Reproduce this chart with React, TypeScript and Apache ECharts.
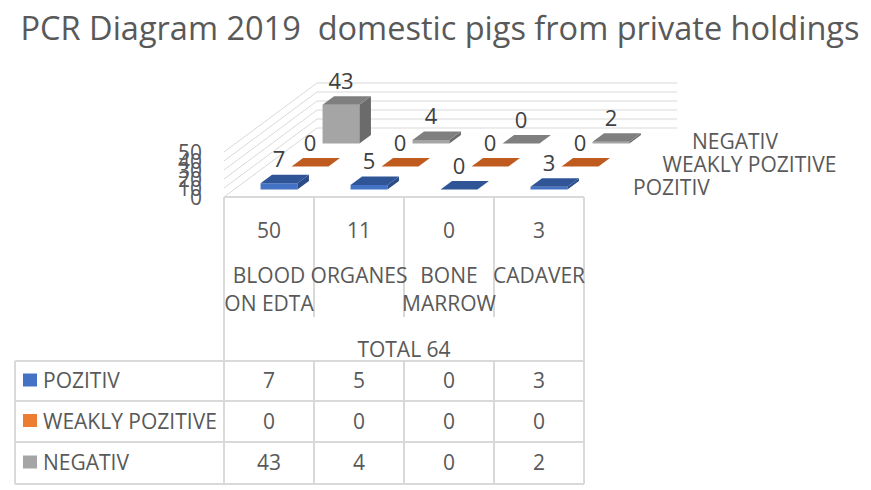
import React, { useEffect, useRef } from "react";
import * as echarts from "echarts";

// ---------- data ----------
const chartTitle = "PCR Diagram 2019  domestic pigs from private holdings";
const categories = ["BLOOD\nON EDTA", "ORGANES", "BONE\nMARROW", "CADAVER"];
const categoryTotals = [50, 11, 0, 3];
const grandTotalLabel = "TOTAL 64";
const seriesNames = ["POZITIV", "WEAKLY POZITIVE", "NEGATIV"];
const pozitiv = [7, 5, 0, 3];
const weaklyPozitive = [0, 0, 0, 0];
const negativ = [43, 4, 0, 2];
const yTicks = [0, 10, 20, 30, 40, 50];

const seriesValues = [pozitiv, weaklyPozitive, negativ];

// ---------- style / layout ----------
const FONT = "'Open Sans', 'Noto Sans', sans-serif";
const TXT = "#595959";
const LABEL = "#404040";
const LINE = "#D9D9D9";
const palette = [
  { key: "#4472C4", front: "#4472C4", top: "#2F5597", side: "#2B4C88" },
  { key: "#ED7D31", front: "#ED7D31", top: "#BF5B1E", side: "#A24B16" },
  { key: "#A5A5A5", front: "#A5A5A5", top: "#7F7F7F", side: "#6B6B6B" },
];
const ROW_DX = 31;
const ROW_DY = 23;
const IN_ROW_DX = 10;
const IN_ROW_DY = 7.5;
const BAR_DX = 11.5;
const BAR_DY = 8.5;
const BAR_W_RATIO = 0.41;
const NROWS = 3;

const GRID_LEFT = 224;
const GRID_TOP = 152;
const GRID_W = 360;
const GRID_H = 45;

function txt(text: string, x: number, y: number, size: number, align: string, extra: any = {}) {
  return {
    type: "text",
    silent: true,
    style: {
      text,
      x,
      y,
      fill: extra.fill || TXT,
      fontSize: size,
      fontFamily: FONT,
      align,
      textAlign: align,
      verticalAlign: extra.va || "middle",
      textVerticalAlign: extra.va || "middle",
      lineHeight: extra.lineHeight,
    },
  };
}

function line(x1: number, y1: number, x2: number, y2: number) {
  return {
    type: "line",
    silent: true,
    shape: { x1, y1, x2, y2 },
    style: { stroke: LINE, lineWidth: 2 },
  };
}

export default function App() {
  const ref = useRef<HTMLDivElement>(null);

  useEffect(() => {
    document.body.style.margin = "0";
    if (!ref.current) return;
    const chart = echarts.init(ref.current, null, { renderer: "svg" });

    // walls (gridlines on left & back wall) + value-axis tick labels
    const wallsRender = (params: any, api: any) => {
      const v = api.value(1);
      const bw = api.size([1, 0])[0];
      const p0 = api.coord([0, v]);
      const p1 = api.coord([categories.length - 1, v]);
      const xl = p0[0] - bw / 2;
      const xr = p1[0] + bw / 2;
      const y = p0[1];
      const bdx = NROWS * ROW_DX;
      const bdy = NROWS * ROW_DY;
      return {
        type: "group",
        children: [
          { type: "line", shape: { x1: xl, y1: y, x2: xl + bdx, y2: y - bdy }, style: { stroke: LINE, lineWidth: 1 } },
          { type: "line", shape: { x1: xl + bdx, y1: y - bdy, x2: xr + bdx, y2: y - bdy }, style: { stroke: LINE, lineWidth: 1 } },
          {
            type: "text",
            style: {
              text: String(v),
              x: xl - 22,
              y,
              align: "right",
              textAlign: "right",
              verticalAlign: "middle",
              textVerticalAlign: "middle",
              fontSize: 21,
              fontFamily: FONT,
              fill: TXT,
            },
          },
        ],
      };
    };

    const makeBarRender = (r: number) => (params: any, api: any) => {
      const i = api.value(0);
      const v = api.value(1);
      const base = api.coord([i, 0]);
      const top = api.coord([i, v]);
      const bw = api.size([1, 0])[0];
      const w = bw * BAR_W_RATIO;
      const ox = r * ROW_DX + IN_ROW_DX;
      const oy = -(r * ROW_DY + IN_ROW_DY);
      const x0 = base[0] - w / 2 + ox;
      const yb = base[1] + oy;
      const yt = top[1] + oy;
      const c = palette[r];
      const children: any[] = [];
      const h = yb - yt;
      if (h > 0.3) {
        children.push({ type: "rect", shape: { x: x0, y: yt, width: w, height: h }, style: { fill: c.front } });
        children.push({
          type: "polygon",
          shape: { points: [[x0 + w, yt], [x0 + w + BAR_DX, yt - BAR_DY], [x0 + w + BAR_DX, yb - BAR_DY], [x0 + w, yb]] },
          style: { fill: c.side },
        });
      }
      children.push({
        type: "polygon",
        shape: { points: [[x0, yt], [x0 + w, yt], [x0 + w + BAR_DX, yt - BAR_DY], [x0 + BAR_DX, yt - BAR_DY]] },
        style: { fill: c.top },
      });
      children.push({
        type: "text",
        style: {
          text: String(v),
          x: x0 + w / 2,
          y: yt - 25,
          align: "center",
          textAlign: "center",
          verticalAlign: "middle",
          textVerticalAlign: "middle",
          fontSize: 22,
          fontFamily: FONT,
          fill: LABEL,
        },
      });
      return { type: "group", children };
    };

    const barSeries = [2, 1, 0].map((r) => ({
      type: "custom",
      name: seriesNames[r],
      silent: true,
      renderItem: makeBarRender(r),
      data: seriesValues[r].map((v, i) => [i, v]),
    }));

    // ----- graphic: title, depth labels, data table -----
    const g: any[] = [];
    g.push(txt(chartTitle, 440, 27, 32.5, "center"));

    seriesNames.forEach((n, r) => {
      g.push(txt(n, 633 + r * 29.5, 187 - r * 23, 21, "left"));
    });

    const colW = GRID_W / categories.length;
    const tableLeft = 15;
    const rowTops = [361, 401, 442, 484];
    const headerTop = GRID_TOP + GRID_H;

    g.push(line(GRID_LEFT, headerTop, GRID_LEFT + GRID_W, headerTop));
    g.push(line(GRID_LEFT, headerTop, GRID_LEFT, rowTops[rowTops.length - 1]));
    g.push(line(GRID_LEFT + GRID_W, headerTop, GRID_LEFT + GRID_W, rowTops[rowTops.length - 1]));
    for (let i = 1; i < categories.length; i++) {
      const x = GRID_LEFT + i * colW;
      g.push(line(x, headerTop, x, 317));
      g.push(line(x, rowTops[0], x, rowTops[rowTops.length - 1]));
    }
    rowTops.forEach((y) => g.push(line(tableLeft, y, GRID_LEFT + GRID_W, y)));
    g.push(line(tableLeft, rowTops[0], tableLeft, rowTops[rowTops.length - 1]));

    categories.forEach((c, i) => {
      const cx = GRID_LEFT + (i + 0.5) * colW;
      g.push(txt(String(categoryTotals[i]), cx, 230, 21, "center"));
      g.push(txt(c, cx, 261, 21, "center", { va: "top", lineHeight: 28 }));
    });
    g.push(txt(grandTotalLabel, GRID_LEFT + GRID_W / 2, 349, 21, "center"));

    seriesNames.forEach((n, r) => {
      const yc = (rowTops[r] + rowTops[r + 1]) / 2 - 1;
      g.push({
        type: "rect",
        silent: true,
        shape: { x: 23, y: yc - 6.5, width: 14, height: 13 },
        style: { fill: palette[r].key },
      });
      g.push(txt(n, 43, yc, 21, "left"));
      seriesValues[r].forEach((v, i) => {
        g.push(txt(String(v), GRID_LEFT + (i + 0.5) * colW, yc, 21, "center"));
      });
    });

    chart.setOption({
      animation: false,
      grid: { left: GRID_LEFT, top: GRID_TOP, width: GRID_W, height: GRID_H },
      xAxis: { type: "category", data: categories, show: false },
      yAxis: {
        type: "value",
        min: 0,
        max: 50,
        interval: 10,
        axisLine: { show: false },
        axisTick: { show: false },
        splitLine: { show: false },
        axisLabel: { show: false },
      },
      series: [
        {
          type: "custom",
          silent: true,
          renderItem: wallsRender,
          data: yTicks.map((v) => [0, v]),
        },
        ...barSeries,
      ],
      graphic: g,
    });

    return () => chart.dispose();
  }, []);

  return <div ref={ref} style={{ width: 871, height: 490 }} />;
}
